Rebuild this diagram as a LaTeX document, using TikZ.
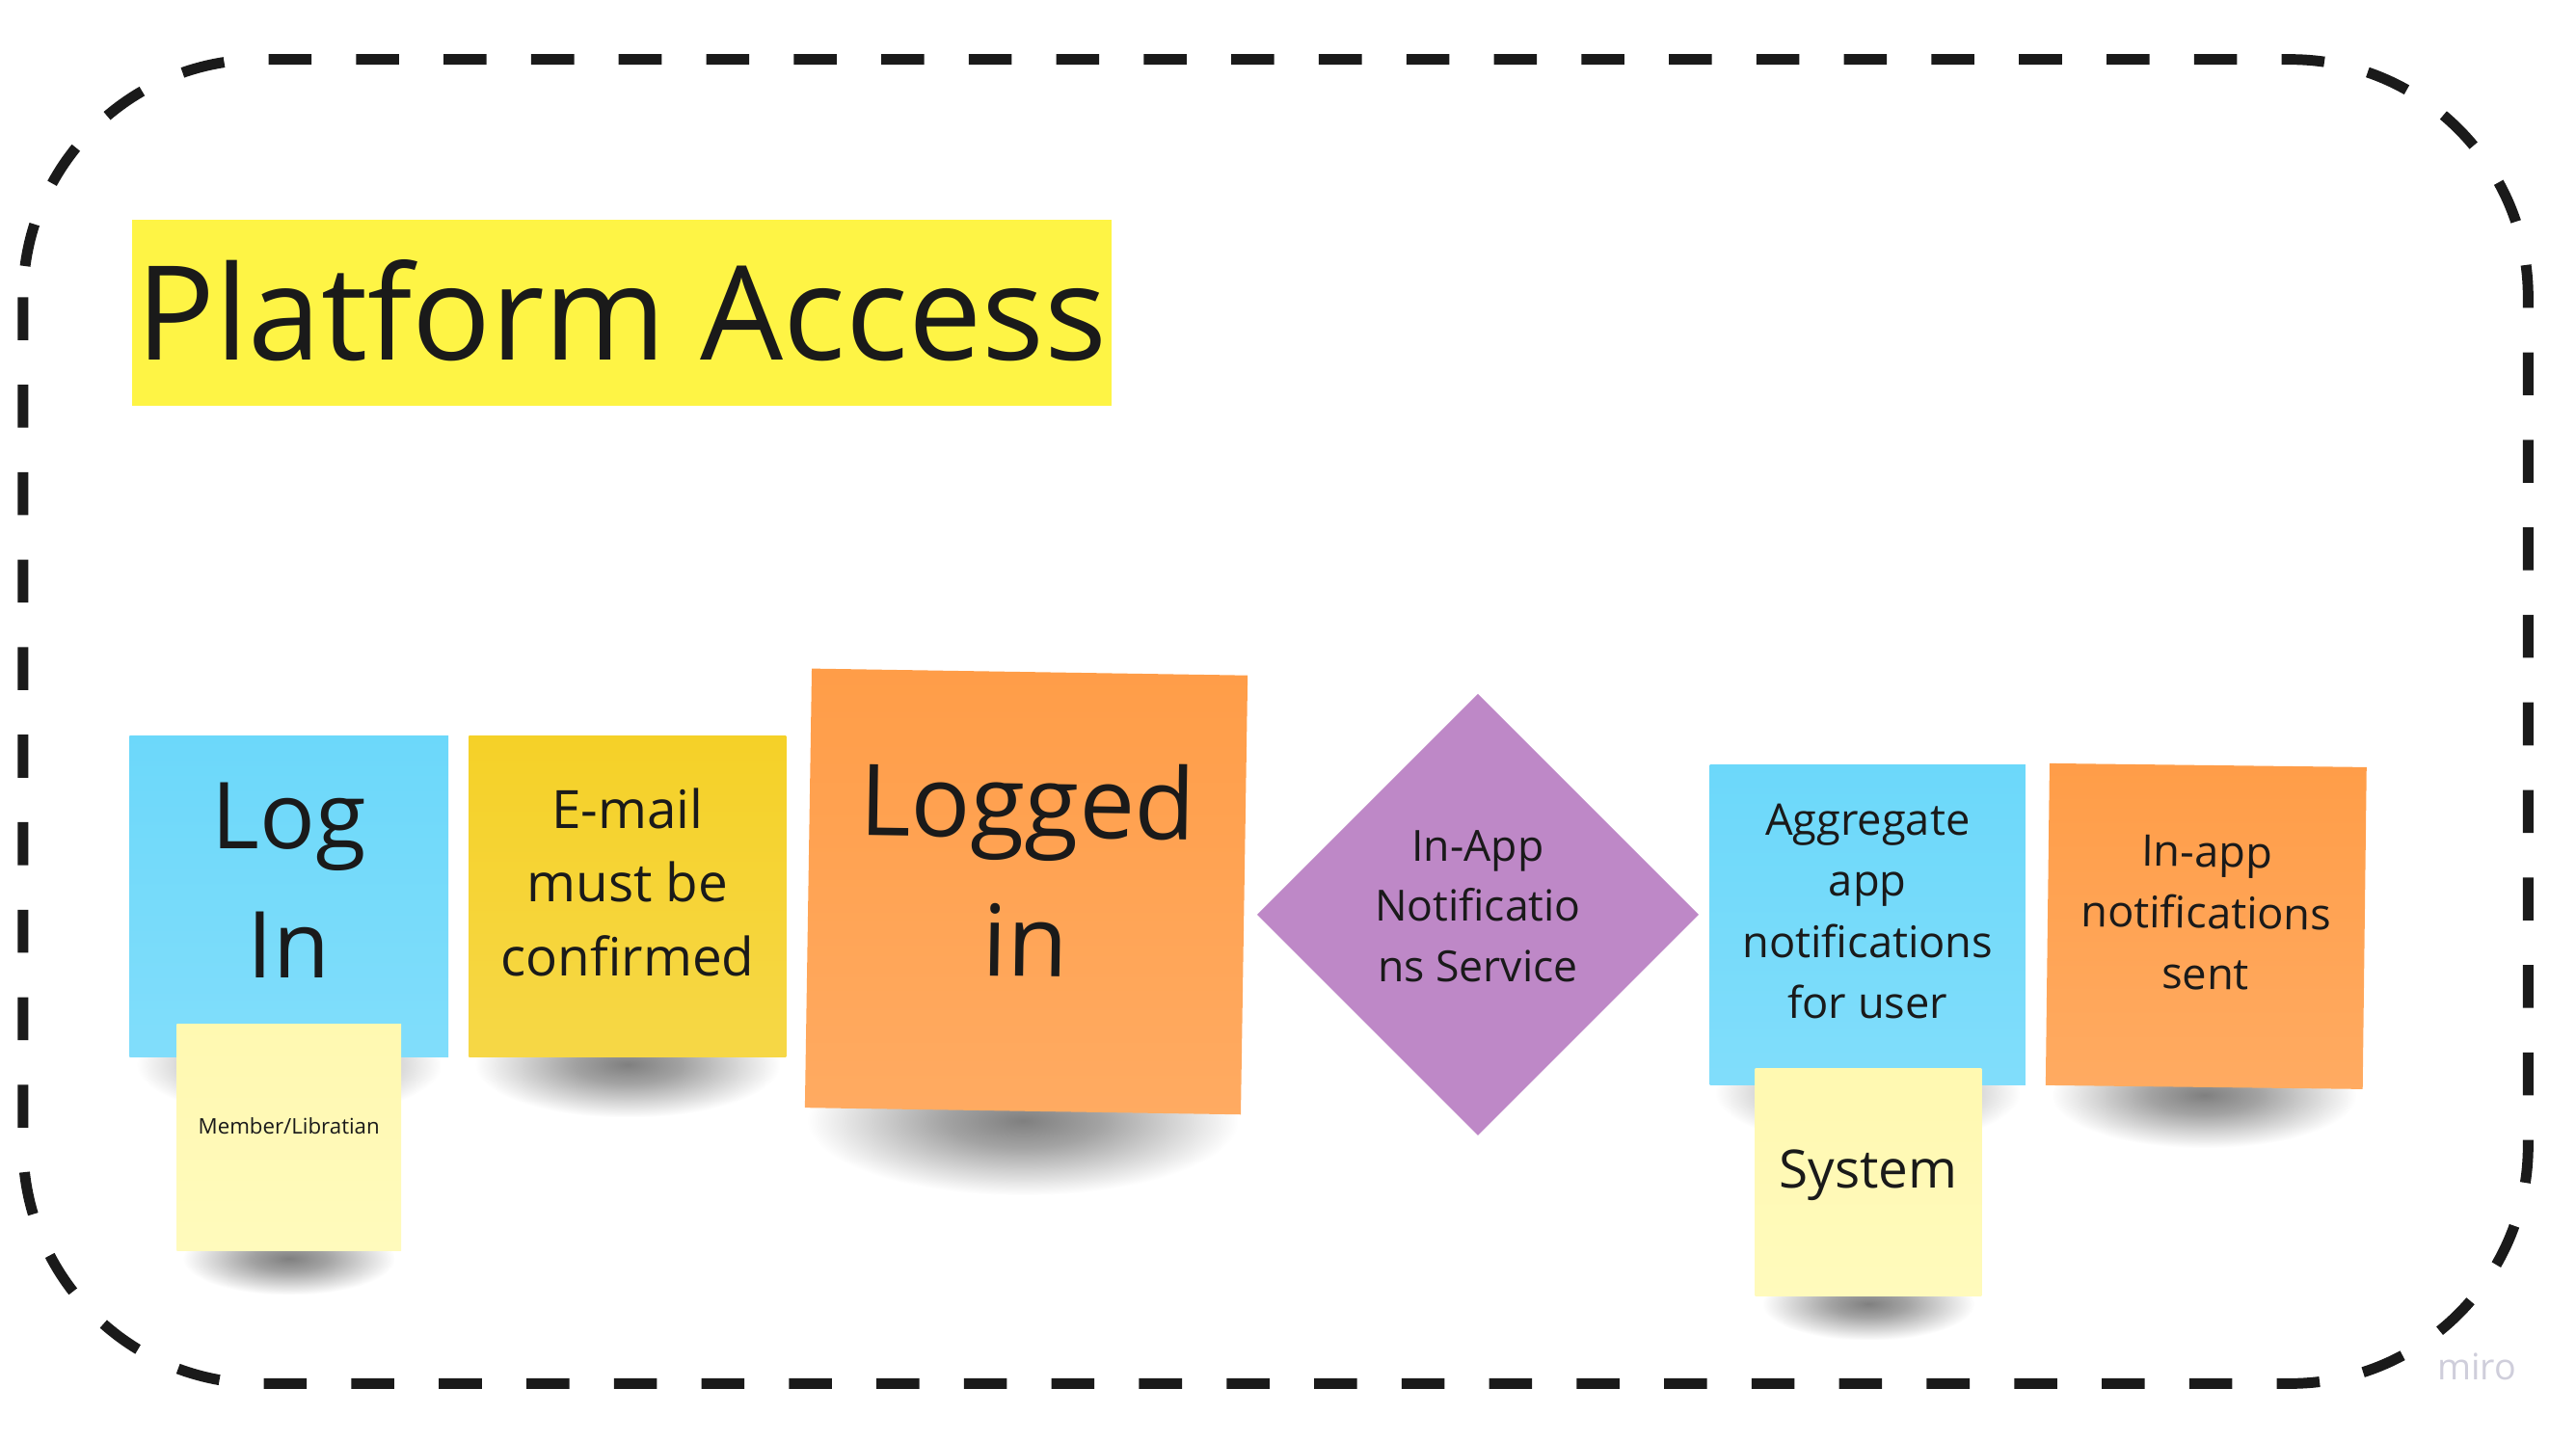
\documentclass[tikz,border=0pt]{standalone}
\usepackage{fontspec}
\setmainfont{Open Sans}
\usetikzlibrary{shapes.geometric,fadings}

\definecolor{notecyan}{HTML}{6CD8FA}
\definecolor{noteyellow}{HTML}{F5D128}
\definecolor{notelight}{HTML}{FFF9B1}
\definecolor{noteorange}{HTML}{FF9D48}
\definecolor{notepurple}{HTML}{BE88C7}
\definecolor{titleyellow}{HTML}{FEF445}
\definecolor{inkblack}{HTML}{1A1A1A}
\definecolor{mirogrey}{HTML}{CFCEDB}

\pgfdeclarelayer{background}
\pgfsetlayers{background,main}

% line struts so the text block sits like on the board
\newcommand\topstrut{\rule{0pt}{1.088em}}
\newcommand\botstrut[1][9pt]{\rule[-\dimexpr0.312em+#1\relax]{0pt}{\dimexpr0.312em+#1\relax}}

% soft shadow under the notes
\pgfdeclareradialshading{shadowblobshading}{\pgfpointorigin}{color(0bp)=(white); color(9bp)=(white!72!black); color(25bp)=(black); color(50bp)=(black)}
\pgfdeclarefading{shadowblob}{\pgfuseshading{shadowblobshading}}

\tikzset{every picture/.style={line width=0.75pt}}
\tikzset{
  frame/.style={draw=inkblack, line width=3.2pt, dash pattern=on 13pt off 13.5pt, rounded corners=72pt},
  titlebox/.style={fill=titleyellow, inner sep=0pt, minimum width=296.5pt, minimum height=56.5pt,
    font=\fontsize{39.7}{48}\selectfont, text=inkblack, text height=28.4pt, text depth=0pt},
  sticky/.style={rectangle, inner sep=0pt, align=center, text=inkblack,
    top color=#1, bottom color=#1!86!white},
  shadowfill/.style={fill=black, fill opacity=0.5, path fading=shadowblob}
}

\begin{document}
\begin{tikzpicture}[x=0.5pt,y=0.5pt,yscale=-1]
\useasboundingbox (0,0) rectangle (1560,873.4);

%Rounded Rect 
\draw [frame] (14,36) rectangle (1531,838);

% Text Node
\node [titlebox] (title) at (376.5,189.5) {Platform Access};

%Sticky Note 
\node [sticky=notecyan, minimum width=96.5pt, minimum height=97pt, font=\fontsize{28}{39.2}\selectfont] (login) at (175,543) {\topstrut Log\\In\botstrut[11.5pt]};
%Sticky Note 
\node [sticky=notelight, minimum width=68pt, minimum height=68.5pt, font=\fontsize{6.5}{9.1}\selectfont] (member) at (175,689) {\topstrut Member/Libratian\botstrut[7pt]};
%Sticky Note 
\node [sticky=noteyellow, minimum width=96pt, minimum height=97pt, font=\fontsize{16}{22.4}\selectfont] (email) at (380,543) {\topstrut E-mail\\must be\\confirmed\botstrut};
%Sticky Note 
\node [sticky=noteorange, rotate=-0.9, minimum width=132pt, minimum height=133pt, font=\fontsize{30}{42}\selectfont] (logged) at (621.5,540) {\topstrut Logged\\in\botstrut[14pt]};
%Diamond 
\node [diamond, fill=notepurple, inner sep=0pt, align=center, text=inkblack, minimum width=134pt, minimum height=134pt, font=\fontsize{13}{18.2}\selectfont] (service) at (895,554) {\topstrut In-App\\Notificatio\\ns Service\botstrut[6pt]};
%Sticky Note 
\node [sticky=notecyan, minimum width=95.5pt, minimum height=97pt, font=\fontsize{13.2}{18.5}\selectfont] (aggregate) at (1131,560) {\topstrut Aggregate\\app\\notifications\\for user\botstrut};
%Sticky Note 
\node [sticky=notelight, minimum width=68.5pt, minimum height=69pt, font=\fontsize{16}{22.4}\selectfont] (system) at (1131.5,716) {\topstrut System\botstrut};
%Sticky Note 
\node [sticky=noteorange, rotate=-0.7, minimum width=96pt, minimum height=97.5pt, font=\fontsize{13.2}{18.5}\selectfont] (sent) at (1336,561) {\topstrut In-app\\notifications\\sent\botstrut};

% Text Node
\node [text=mirogrey, inner sep=0pt, font=\fontsize{11}{13}\selectfont] (miro) at (1500,828) {miro};

%Shadows
\begin{pgfonlayer}{background}
\fill [shadowfill] (login.south) ++(-92,-28) rectangle ++(184,64);
\fill [shadowfill] (member.south) ++(-64,-18) rectangle ++(128,44);
\fill [shadowfill] (email.south) ++(-92,-28) rectangle ++(184,64);
\fill [shadowfill] (logged.south) ++(-130,-40) rectangle ++(260,90);
\fill [shadowfill] (aggregate.south) ++(-92,-28) rectangle ++(184,64);
\fill [shadowfill] (system.south) ++(-64,-18) rectangle ++(128,44);
\fill [shadowfill] (sent.south) ++(-92,-28) rectangle ++(184,64);
\end{pgfonlayer}
\end{tikzpicture}
\end{document}
